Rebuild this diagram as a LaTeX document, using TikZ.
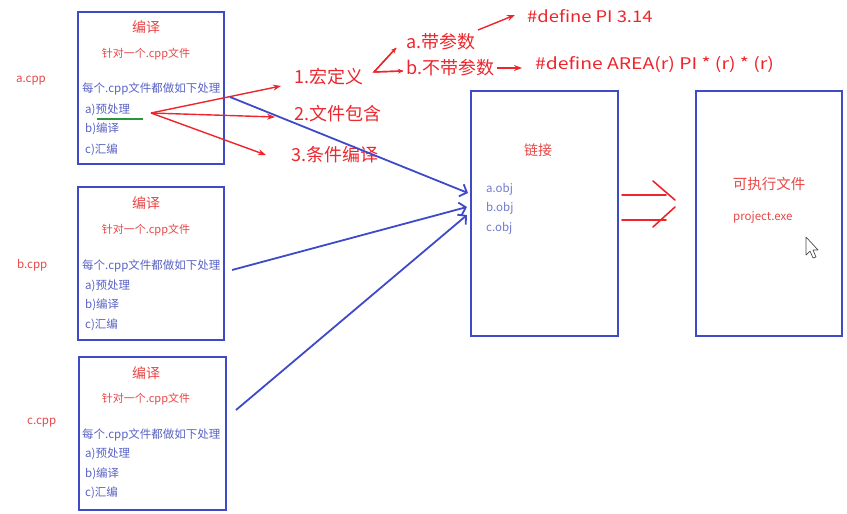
\documentclass[tikz,border=0pt]{standalone}
\usepackage{fontspec}
\setmainfont{Noto Sans CJK SC}
\usetikzlibrary{arrows.meta}
\definecolor{boxblue}{RGB}{62,74,200}
\definecolor{txtred}{RGB}{232,70,70}
\definecolor{txtblue}{RGB}{88,98,196}
\definecolor{handred}{RGB}{236,38,44}
\definecolor{uline}{RGB}{40,150,60}
\tikzset{
  frame/.style={draw=boxblue, line width=2.4pt, inner sep=0pt},
  title/.style={text=txtred, font=\fontsize{14}{16}\selectfont, inner sep=0pt},
  sub/.style={text=txtred, font=\fontsize{11}{13}\selectfont, inner sep=0pt},
  item/.style={text=txtblue, font=\fontsize{11.5}{13}\selectfont, anchor=west, inner sep=0pt},
  filelabel/.style={text=txtred, font=\fontsize{11.5}{13}\selectfont, anchor=west, inner sep=0pt},
  hand/.style={text=handred, font=\fontsize{18}{20}\selectfont, anchor=west, inner sep=0pt},
  code/.style={text=handred, font=\fontsize{16}{18}\selectfont, anchor=west, inner sep=0pt},
  redarrow/.style={draw=handred, line width=1.4pt, -{Stealth[length=8pt,width=6pt]}},
  bluearrow/.style={draw=boxblue, line width=1.8pt, -{Straight Barb[length=6pt,width=13pt]}},
}
\begin{document}
\begin{tikzpicture}[x=1pt,y=-1pt]
\useasboundingbox (0,0) rectangle (847,514);
% compile boxes
\node[frame, minimum width=146pt, minimum height=152pt] (boxa) at (151,88) {};
\node[frame, minimum width=146pt, minimum height=153pt] (boxb) at (151,263.5) {};
\node[frame, minimum width=147pt, minimum height=153pt] (boxc) at (152.5,433.5) {};
\node[frame, minimum width=147pt, minimum height=245pt] (link) at (544.5,213.5) {};
\node[frame, minimum width=146pt, minimum height=245pt] (exe) at (769,213.5) {};
% file labels
\node[filelabel] (acpp) at (16,81) {a.cpp};
\node[filelabel] (bcpp) at (17,265) {b.cpp};
\node[filelabel] (ccpp) at (27,423) {c.cpp};
% box A
\node[title] (ta) at (146,27) {编译};
\node[sub] (sa) at (146,54) {针对一个.cpp文件};
\node[item] (ma) at (82,89) {每个.cpp文件都做如下处理};
\node[item] (pa) at (85,110) {a)预处理};
\node[item] (ca) at (85,129) {b)编译};
\node[item] (asa) at (85,150) {c)汇编};
% box B
\node[title] (tb) at (146,203) {编译};
\node[sub] (sb) at (146,230) {针对一个.cpp文件};
\node[item] (mb) at (82,266) {每个.cpp文件都做如下处理};
\node[item] (pb) at (85,286) {a)预处理};
\node[item] (cb) at (85,305) {b)编译};
\node[item] (asb) at (85,325) {c)汇编};
% box C
\node[title] (tc) at (146,373) {编译};
\node[sub] (sc) at (146,399) {针对一个.cpp文件};
\node[item] (mc) at (82,435) {每个.cpp文件都做如下处理};
\node[item] (pc) at (85,454) {a)预处理};
\node[item] (cc) at (85,474) {b)编译};
\node[item] (asc) at (85,493) {c)汇编};
% underline
\coordinate (ul1) at (97,119);
\coordinate (ul2) at (143,119);
\draw[uline, line width=1.6pt] (ul1) -- (ul2);
% preprocessing branches
\node[hand] (macro) at (294,77) {1.宏定义};
\node[hand] (incl) at (294,114) {2.文件包含};
\node[hand] (cond) at (291,155) {3.条件编译};
\coordinate (pre) at (151,113);
\coordinate (e1) at (281,86);
\coordinate (e2) at (275,117);
\coordinate (e3) at (266,155);
\draw[redarrow] (pre) -- (e1);
\draw[redarrow] (pre) -- (e2);
\draw[redarrow] (pre) -- (e3);
% macro kinds
\node[hand] (withp) at (406,42) {a.带参数};
\node[hand] (nop) at (406,68) {b.不带参数};
\coordinate (m0) at (374,72);
\coordinate (m1) at (396,48);
\coordinate (m2) at (403,71);
\draw[draw=handred, line width=1.4pt] (m1) -- (m0) -- (m2);
\draw[redarrow, -{Stealth[length=5pt,width=5pt]}] (m0) -- (m1);
\draw[redarrow, -{Stealth[length=5pt,width=5pt]}] (m0) -- (m2);
\node[code] (pi) at (527,16) {\scalebox{1.15}[1]{\#define PI 3.14}};
\node[code] (area) at (535,65) {\scalebox{1.21}[1]{\#define AREA(r) PI * (r) * (r)}};
\coordinate (wa) at (478,30);
\coordinate (wb) at (515,15);
\draw[redarrow] (wa) -- (wb);
\coordinate (na) at (497,68);
\coordinate (nb) at (522,68);
\draw[redarrow] (na) -- (nb);
% blue arrows to link
\coordinate (oa) at (230,97);
\coordinate (ob) at (232,270);
\coordinate (oc) at (236,410);
\coordinate (ia) at (468,193);
\coordinate (ib) at (467,207);
\coordinate (ic) at (467,215);
\draw[bluearrow] (oa) -- (ia);
\draw[bluearrow] (ob) -- (ib);
\draw[bluearrow] (oc) -- (ic);
% link texts
\node[title] (lt) at (538,150) {链接};
\node[item, text=txtblue!85] (ao) at (486,189) {a.obj};
\node[item, text=txtblue!85] (bo) at (486,208) {b.obj};
\node[item, text=txtblue!85] (co) at (486,228) {c.obj};
% double arrow
\coordinate (d1) at (622,195);
\coordinate (d2) at (666,195);
\coordinate (d3) at (622,220);
\coordinate (d4) at (666,220);
\coordinate (h1) at (653,181);
\coordinate (h2) at (675,200);
\coordinate (h3) at (653,227);
\coordinate (h4) at (675,207);
\draw[handred, line width=1.6pt, line cap=round] (d1) -- (d2) (d3) -- (d4) (h1) -- (h2) (h3) -- (h4);
% exe texts
\node[title, font=\fontsize{14.5}{16}\selectfont] (et) at (769,184) {可执行文件};
\node[filelabel, font=\fontsize{11.5}{13}\selectfont] (pe) at (733,217) {project.exe};
% cursor
\draw[fill=white, draw=black!70, line width=0.7pt, line join=round]
  (806,237) -- (806,255) -- (810,251) -- (813,258) -- (816,257) -- (813,250) -- (818,250) -- cycle;
\end{tikzpicture}
\end{document}
